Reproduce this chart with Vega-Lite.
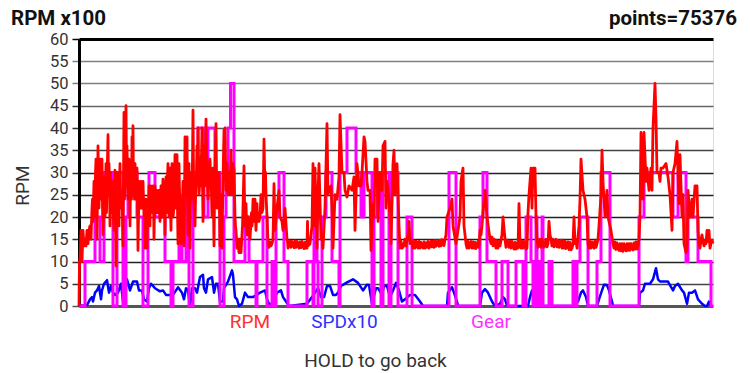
{"$schema":"https://vega.github.io/schema/vega-lite/v6.json","width":634,"height":267,"autosize":"none","padding":{"left":79,"top":39,"right":37,"bottom":67},"background":"white",
"datasets":{"rpm":[[0,0],[0.5,10],[1,10],[2,17],[3,10],[4,17],[5,13.5],[6,15],[7,13.5],[8,17],[9,14],[10,17],[11,18],[12,15],[13,22],[14,19],[15,28],[16,20],[17,33],[18,15],[19,36],[20,22],[21,33],[22,26],[23,33],[24,16],[25,24],[26,20],[27,32],[28,28],[29,38.5],[30,32],[31,18],[32,26],[34,22],[35,17],[36,30.5],[37,9],[38,30],[40,18],[41,32],[42,22],[44,13.5],[45,43.5],[46,28],[47,45],[48,36],[49,24],[50,33],[51,18],[52,32],[53,38],[54,40.5],[55,28],[56,32],[57,29],[58,31],[59,12.5],[60,28],[61,22],[62,28],[64,28],[65,20],[66,13],[67,24],[68,13],[69,22],[70,27],[71,18],[72,27],[73,24],[74,27],[75,15],[76,27],[77,22],[78,26],[79,21],[80,26],[81,19],[82,27],[83,20],[84,28.5],[85,20],[86,16],[87,29],[88,23],[89,32],[90,20],[91,31],[92,17],[93,32],[94,20],[95,24],[96,34],[97,22],[98,34],[99,14],[100,32],[101,22],[102,14],[103,22],[104,28],[105,13.5],[106,38],[107,25],[108,38],[109,16],[110,32],[111,13],[112,30],[113,24],[114,44],[115,23],[116,18],[117,27],[118,36],[119,40],[120,25],[121,30],[122,33],[123,40],[124,19],[125,36],[126,27],[127,42],[128,30],[129,24],[130,31],[131,33],[132,28],[133,20],[134,31],[135,13.5],[136,30],[137,41],[138,22],[139,28],[140,30],[141,13.5],[142,25],[143,13],[144,28],[145,39.5],[146,40],[147,26],[148,32],[149,25],[150,30],[151,25],[152,35],[153,25],[154,32],[155,31],[156,20],[157,17],[158,13],[159,15],[160,12],[161,15],[162,12],[163,16],[164,22],[165,31.5],[166,18],[167,23],[168,16],[169,20],[170,18],[171,15],[172,19],[173,18],[174,24],[175,19],[176,24],[177,17],[178,23],[179,21],[180,19],[182,25],[184,22],[185,37.5],[186,26],[187,25],[188,20],[189,14.5],[192,13.5],[194,15],[195,27.5],[196,17],[198,22],[200,26],[201,20],[203,19],[204,17],[206,22],[208,15],[210,14],[214,14],[219,13.7],[224,13.7],[228,13],[228.5,19],[229,13.5],[231,14],[233,18],[234,32],[235,18],[236,31],[238,13],[239,25],[240,32],[242,15],[243,16],[244,13],[246,22],[248,41],[249,25],[250,26],[252,27],[253,22],[254,13],[256,25],[258,24],[260,29],[261,43],[263,30],[265,30],[266,26],[268,24.5],[270,27],[273,26],[275,29],[276,17],[278,32],[280,27],[282,27],[283,30],[285,38],[286,37],[288,28],[289,26],[291,26],[292,12.5],[294,23],[295,20],[296,33],[298,33],[299,19],[301,30],[303,26],[304,36],[306,37],[307,22],[308,28],[310,24],[311,20],[312,14],[314,32],[315,35],[316,25],[318,32],[319,25],[321,13],[323,13],[325,14],[328,15],[330,19],[332,15],[334,13],[338,14],[344,13],[351,13.5],[358,14],[364,14],[368,20],[371,22],[373,24],[374,18],[377,14],[381,20],[382,28],[384,31],[385,18],[387,14],[391,13.5],[398,13.5],[401,17],[404,21],[406,26],[408,20],[411,15],[416,14],[421,13.5],[423,16],[424,20],[426,15],[429,14],[434,13.5],[439,13],[440,23],[441,14],[446,13.5],[448,13],[449,21],[450,25],[452,31],[453,22],[454,31],[456,31],[457,20],[458,15],[460,14],[464,14],[466,14],[469,14],[470,19],[472,15],[476,14],[481,14],[488,13.5],[493,13],[495,20],[496,14],[498,13],[500,18],[501,24],[502,33],[504,26],[506,24],[508,20],[509,14],[514,13.5],[518,14],[520,18],[522,25],[523,35],[524,28],[526,20],[528,26],[529,20],[532,17],[534,14],[539,13],[546,13],[553,13],[559,13.5],[561,20],[562,39],[564,24],[565,39],[567,28],[568,31],[570,26],[572,31],[573,26],[574,40],[576,50],[577,42],[578,30],[580,30],[581,28],[582,31],[584,31],[587,32],[589,29],[591,25],[593,17],[594,30],[596,32],[598,37],[600,23],[601,34],[603,20],[604,25],[605,14],[607,12],[608,13],[609,26],[611,20],[613,24],[614,20],[616,27],[618,27],[619,17],[620,14],[622,15],[623,16],[625,13.5],[627,14],[628,17],[630,17],[632,14],[634,14],
[13.5,24],[15.5,21],[16.5,30],[18.5,26],[19.5,27],[20.5,31],[21.5,24],[22.5,31],[23.5,22],[25.5,29],[27.5,21],[28.5,33],[29.5,26],[30.5,27],[31.5,30],[32.5,21],[33,28],[33.5,24],[35.5,26],[36.5,22],[37.5,25],[38.5,21],[39,27],[40.5,28],[41.5,24],[43,26],[44.5,29],[45.5,24],[46.5,36],[47.5,30],[48.5,29],[49.5,24],[50.5,27],[51.5,27],[52.5,24],[53.5,30],[54.5,26],[55.5,24],[56.5,27],[57.5,24],[58.5,24],[60.5,25],[61.5,26],[63,22],[64.5,24],[65.5,24],[66.5,21],[67.5,22],[68.5,21],[69.5,21],[70.5,23],[71.5,25],[72.5,22],[73.5,21],[74.5,23],[75.5,22],[76.5,24],[77.5,21],[78.5,22],[79.5,25],[80.5,21],[81.5,24],[82.5,22],[83.5,26],[84.5,23],[85.5,24],[86.5,24],[87.5,21],[88.5,29],[89.5,24],[90.5,26],[91.5,22],[92.5,28],[93.5,26],[94.5,21],[95.5,28],[96.5,25],[97.5,29],[98.5,22],[99.5,24],[100.5,26],[101.5,19],[102.5,20],[103.5,24],[104.5,19],[105.5,24],[106.5,30],[107.5,31],[108.5,25],[109.5,24],[110.5,22],[111.5,24],[112.5,27],[113.5,33],[114.5,30],[115.5,20],[116.5,24],[117.5,30],[118.5,28],[119.5,31],[120.5,27],[121.5,27],[122.5,34],[123.5,28],[125.5,30],[126.5,34],[127.5,36],[128.5,27],[129.5,27],[131.5,30],[132.5,25],[133.5,26],[134.5,22],[135.5,24],[136.5,36],[137.5,30],[138.5,25],[139.5,24],[140.5,22],[141.5,20],[142.5,18],[143.5,21],[144.5,34],[145.5,30],[146.5,32],[147.5,28],[148.5,28],[149.5,27],[150.5,28],[151.5,30],[152.5,30],[153.5,28],[154.5,26],[156.5,18],[158.5,15],[159.5,13],[160.5,14],[161.5,13],[162.5,14],[163.5,18],[165.5,24],[166.5,20],[167.5,19],[168.5,18],[169.5,19],[170.5,16],[171.5,17],[172.5,21],[173.5,20],[174.5,21],[175.5,21],[176.5,20],[177.5,20],[178.5,19],[179.5,20],[181,20],[183,21],[186.5,30],[193,14],
[190,13.2],[191,14.4],[208.5,14.5],[209,13],[211,14.6],[212,13.2],[213,14.5],[215,13.1],[216,14.6],[217,13.2],[218,14.5],[220,13],[221,14.4],[222,13.1],[223,14.5],[225,12.9],[226,14.3],[227,13],
[320,18],[322,14.5],[324,13.2],[326,15],[327,13.5],[329,16],[331,14],[333,14.3],[335,14.5],[336,13],[337,14.6],[339,13],[340,14.5],[341,13],[342,14.3],[343,13.4],[345,14.4],[346,13],[347,14.2],[348,13.2],[349,14.5],[350,13],[352,14.6],[353,13.3],[354,14.6],[355,13.2],[356,14.7],[357,13.4],[359,14.7],[360,13.4],[361,14.8],[362,13.5],[363,14.9],[365,13.6],[366,15],[367,16],
[388,13],[389,14.5],[390,13],[392,14.5],[393,13],[394,14.4],[395,13],[396,14.3],[397,12.9],[399,14.5],[400,13.2],[402,16],[403,18],
[412,14],[413,15.5],[414,13.5],[415,15],[417,13],[418,14.7],[419,13],[420,14.5],[422,14.8],
[427,13.2],[428,14.8],[430,13.2],[431,14.6],[432,13],[433,14.5],[435,12.8],[436,14.3],[437,12.8],[438,14.2],
[442,13],[443,14.5],[444,13],[445,14.5],[447,12.8],
[459,13.2],[461,15],[462,13.2],[463,15],[465,13.2],[467,15],[468,13.3],[471,16],[473,13.5],[474,15],[475,13.3],[477,15],[478,13.3],[479,14.8],[480,13.2],[482,14.8],[483,13],[484,14.6],[485,13],[486,14.6],[487,12.9],[489,14.4],[490,12.7],[491,14.3],[492,12.6],[494,14],[497,15],
[510,13],[511,14.5],[512,13],[513,14.4],[515,13],[516,14.6],[517,13.2],[519,15],
[535,13],[536,14.4],[537,12.7],[538,14.2],[540,12.5],[541,14],[542,12.4],[543,14],[544,12.3],[545,14],[547,12.4],[548,14],[549,12.5],[550,14],[551,12.5],[552,14],[554,12.6],[555,14.2],[556,12.8],[557,14.4],[558,12.8],[560,15],
[621,13],[624,14.5],[626,14.8],[629,14.5],[631,13],[633,14.8]],
"spd":[[0,0],[8,0.2],[11,1.5],[13,2],[14,1],[16,3],[18,3.5],[20,4.5],[22,1.5],[23,3.5],[25,5],[28,5.8],[30,3],[32,4.5],[34,3],[36,2.5],[39,3],[42,5],[44,1],[46,3],[48,6],[51,3.5],[54,5.5],[58,5.5],[60,3.5],[63,3.5],[65,1.5],[68,1],[70,4],[72,5],[76,4],[81,3.3],[84,3.5],[87,2.5],[91,2.5],[94,2.5],[97,3.5],[99,4.2],[103,3],[105,1.5],[107,4],[109,3.5],[111,0],[113,4],[116,4],[118,3],[121,6.5],[124,7],[125,4],[127,3],[129,6],[133,6.5],[135,3],[137,5],[139,5],[141,1],[144,1],[145,4],[149,5.5],[153,8],[154,7],[156,2],[158,1.5],[160,0],[163,0.5],[166,3],[169,2],[174,2],[181,3],[186,3.5],[188,1.5],[191,0],[194,1],[198,3],[202,3.5],[204,2],[207,1],[210,0],[228,0.5],[233,2],[236,3],[239,4],[242,2],[245,2],[248,4.5],[251,4.5],[254,2.5],[257,2.5],[259,3],[262,4.5],[268,5.3],[274,6],[279,5.2],[284,3.5],[288,4.8],[290,4.7],[293,0.5],[297,4],[299,4],[303,2.5],[305,4.5],[308,4.5],[311,2],[314,3.5],[317,5.2],[320,3.5],[323,1],[326,1.5],[331,2.5],[336,2.5],[341,1],[344,0],[368,0],[369,3],[373,4.2],[375,3],[378,1],[379,0],[401,0],[403,3],[406,3.8],[409,3],[413,1],[416,0],[421,0.5],[424,2],[426,1.5],[428,0],[449,0],[451,2],[453,3.5],[454,2.5],[456,1],[458,1],[459,0],[470,0],[471,1],[472,0],[494,0],[496,1],[499,1],[502,3],[504,3.5],[507,2],[509,0],[518,0],[520,1.5],[523,3.5],[525,4.8],[528,4.7],[530,3.5],[533,1],[534,0],[560,0],[561,3],[564,3.5],[566,5],[571,5],[574,6],[577,8.5],[579,6],[581,5.5],[584,5.5],[589,5.5],[594,3.5],[596,4.5],[599,5],[603,3.5],[605,3],[608,0.5],[610,3],[613,3],[616,3.5],[619,1.5],[623,0.5],[626,0],[628,0],[630,1],[632,0]],
"gear":[[0,0],[6,10],[16,20],[21,10],[25,30],[34,0],[38,30],[44,0],[47,20],[49,30],[58,20],[64,0],[69,20],[70,30],[76,20],[86,10],[92,0],[94,10],[100,20],[103,10],[107,30],[110,0],[114,30],[119,40],[125,20],[129,40],[136,30],[141,0],[145,20],[147,30],[149,40],[151.5,50],[155,10],[166,20],[170,10],[177,0],[178,10],[184,20],[188,0],[193,10],[195,0],[197,20],[200,30],[205,10],[209,0],[228,10],[234,0],[235,20],[238,10],[239,0],[243,20],[247,30],[253,10],[260,0],[261,30],[268,40],[277,30],[282,20],[285,30],[293,0],[295,20],[298,30],[302,0],[304,30],[310,0],[312,30],[319,0],[328,20],[333,0],[370,30],[377,0],[401,20],[404,30],[408,10],[417,0],[423,10],[429,0],[437,10],[444,0],[447,20],[452,10],[454,0],[455,10],[456,0],[457,20],[458,0],[459,10],[460,0],[461,10],[462,0],[463,20],[464,0],[470,10],[473,0],[494,10],[497,0],[498,10],[501,20],[509,0],[518,10],[522,30],[531,0],[560,20],[565,30],[594,20],[599,30],[607,10],[609,20],[619,10],[632,0],[634,0]],
"text":[{"t":-68,"v":64.6,"label":"RPM x100","side":"left"},{"t":658,"v":64.6,"label":"points=75376","side":"right"}]},
"layer":[
{"data":{"name":"spd"},"mark":{"type":"line","color":"#0000ff","strokeWidth":2.5,"strokeJoin":"round"},"encoding":{"x":{"field":"0","type":"quantitative","scale":{"domain":[0,634],"nice":false,"zero":false},"axis":{"title":"HOLD to go back","titleFont":"Roboto","titleFontSize":19,"titleFontWeight":"normal","titleColor":"#333333","titleX":296,"titleY":45,"grid":false,"domain":false,"ticks":false,"values":[170.5,265,411.5],"labelExpr":"datum.value==170.5?'RPM':datum.value==265?'SPDx10':'Gear'","labelColor":{"expr":"datum.value==170.5?'#ff3030':datum.value==265?'#3030ff':'#ff30ff'"},"labelFont":"Roboto","labelFontSize":19,"labelPadding":6,"labelOverlap":false,"labelFlush":false,"labelAngle":0}},"y":{"field":"1","type":"quantitative","scale":{"domain":[0,60],"nice":false},"axis":{"title":"RPM","titleFont":"Roboto","titleFontSize":19,"titleFontWeight":"normal","titleColor":"#333333","titleX":-47,"titleY":146,"values":[0,5,10,15,20,25,30,35,40,45,50,55,60],"tickCount":13,"labelOverlap":false,"grid":true,"gridColor":{"expr":"datum.value==60?'#000000':datum.value>=50?'#808080':datum.value==45?'#666666':datum.value==40?'#555555':datum.value==35?'#444444':datum.value==5?'#444444':datum.value==0?'#555555':'#222222'"},"gridWidth":{"expr":"datum.value==60?3:datum.value==0?3:1.5"},"gridOpacity":1,"domain":true,"domainColor":"#000000","domainWidth":3,"ticks":true,"tickSize":7,"tickWidth":1.5,"tickColor":{"expr":"datum.value==60?'#000000':datum.value>=50?'#808080':datum.value==0?'#555555':'#333333'"},"labelFont":"Roboto","labelFontSize":16.5,"labelColor":"#333333","labelPadding":4}}}},
{"data":{"name":"gear"},"mark":{"type":"line","color":"#ff00ff","strokeWidth":3,"interpolate":"step-after"},"encoding":{"x":{"field":"0","type":"quantitative"},"y":{"field":"1","type":"quantitative"}}},
{"data":{"name":"rpm"},"mark":{"type":"line","color":"#ff0000","strokeWidth":2.8,"strokeJoin":"round"},"encoding":{"x":{"field":"0","type":"quantitative"},"y":{"field":"1","type":"quantitative"}}},
{"data":{"name":"text"},"transform":[{"filter":"datum.side=='left'"}],"mark":{"type":"text","align":"left","baseline":"middle","font":"Roboto","fontSize":20.5,"fontWeight":"bold","color":"#111111"},"encoding":{"x":{"field":"t","type":"quantitative"},"y":{"field":"v","type":"quantitative"},"text":{"field":"label"}}},
{"data":{"name":"text"},"transform":[{"filter":"datum.side=='right'"}],"mark":{"type":"text","align":"right","baseline":"middle","font":"Roboto","fontSize":20.5,"fontWeight":"bold","color":"#111111"},"encoding":{"x":{"field":"t","type":"quantitative"},"y":{"field":"v","type":"quantitative"},"text":{"field":"label"}}}
]}
